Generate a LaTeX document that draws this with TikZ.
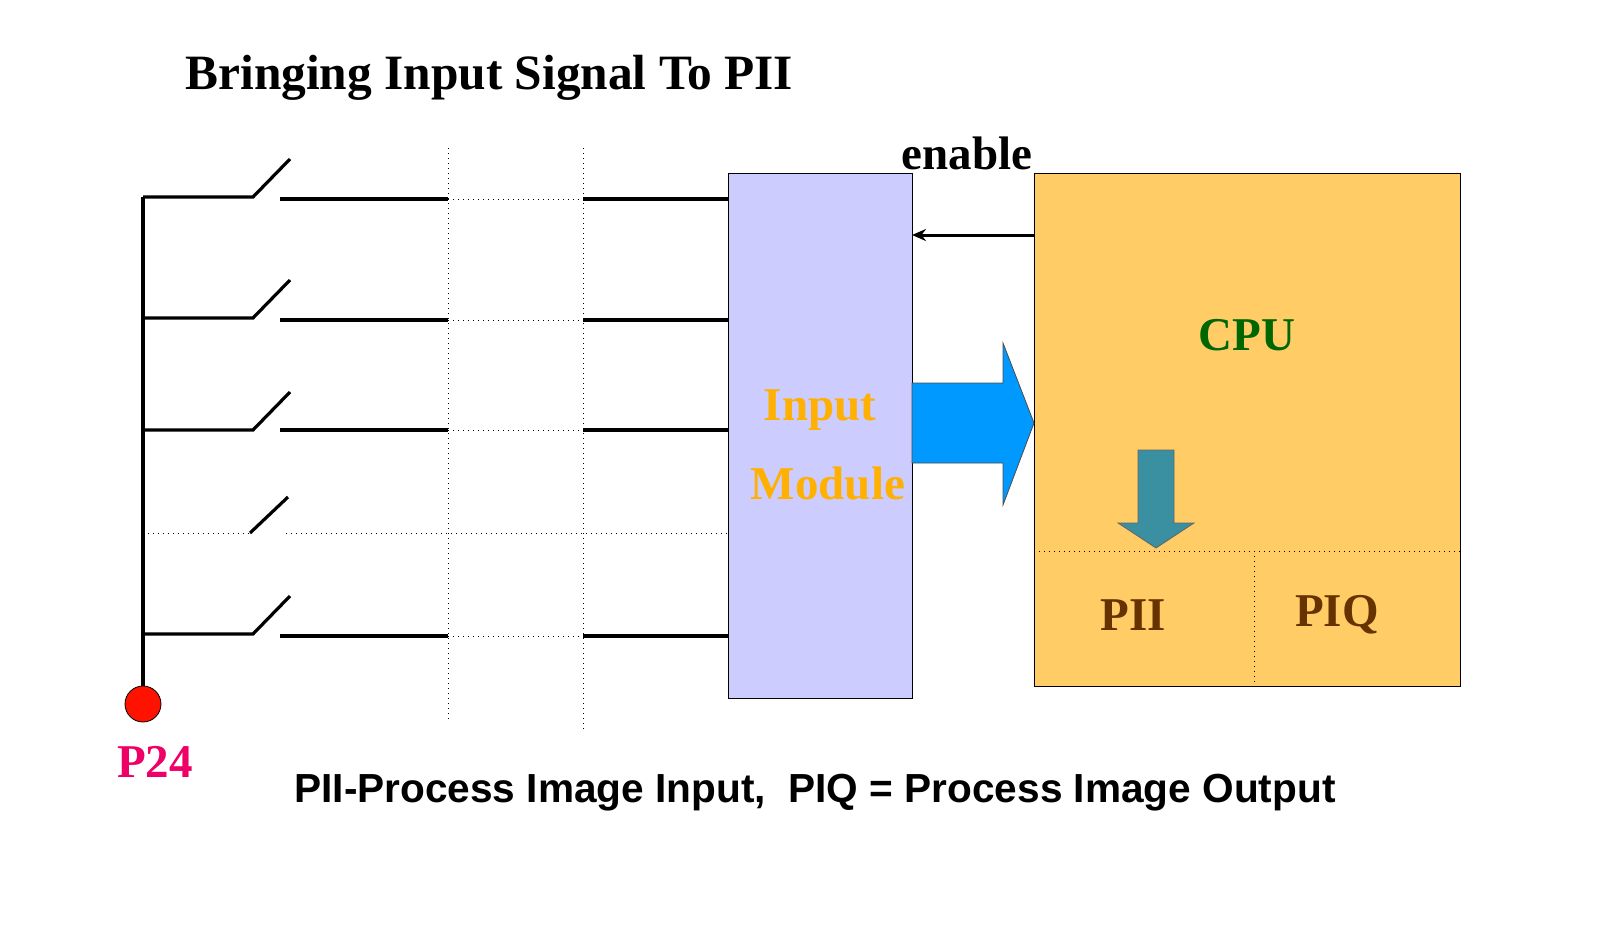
\documentclass[tikz,border=0pt]{standalone}
\usepackage{fontspec}
\setmainfont{Liberation Serif}
\newfontfamily\sansf{Liberation Sans}
\usetikzlibrary{arrows.meta}
\definecolor{modfill}{HTML}{CCCCFF}
\definecolor{cpufill}{HTML}{FFCC66}
\definecolor{modtext}{HTML}{FFB000}
\definecolor{cputext}{HTML}{006600}
\definecolor{piitext}{HTML}{663300}
\definecolor{bluearr}{HTML}{0099FF}
\definecolor{tealarr}{HTML}{3A8FA0}
\definecolor{ptext}{HTML}{EE0066}
\begin{document}
\begin{tikzpicture}[x=0.5pt,y=-0.5pt,
  wire/.style={line width=1.6pt},
  dwire/.style={line width=0.5pt,dotted},
  lbl/.style={font=\bfseries\fontsize{23.5}{26}\selectfont,inner sep=0pt}]
\useasboundingbox (0,0) rectangle (1600,927);
\node[font=\bfseries\fontsize{24.7}{28}\selectfont,inner sep=0pt,anchor=west] (title) at (185,78) {Bringing Input Signal To PII};
% boxes
\node[draw,fill=modfill,minimum width=92pt,minimum height=262.5pt,inner sep=0pt] (mod) at (820,435.5) {};
\node[draw,fill=cpufill,minimum width=213pt,minimum height=256.5pt,inner sep=0pt] (cpu) at (1247,429.5) {};
\node[lbl,text=modtext] (in1) at (820,410) {Input};
\node[lbl,text=modtext] (in2) at (828,483) {Module};
\node[lbl,text=cputext] (cputxt) at (1247,335) {CPU};
\node[lbl,text=piitext] (pii) at (1133,615) {PII};
\node[lbl,text=piitext] (piq) at (1337,615) {PIQ};
\draw[dwire] (1034,551) -- (1460,551) (1254,551) -- (1254,686);
% enable
\node[lbl] (en) at (967,153) {enable};
\coordinate (e1) at (1034,235); \coordinate (e2) at (912,235);
\draw[line width=1.5pt,-{Stealth[length=7pt,width=6pt]}] (e1) -- (e2);
% big arrow
\draw[fill=bluearr,draw=black!70,line width=0.4pt] (912,383) -- (1003,383) -- (1003,343) -- (1034,423) -- (1003,505) -- (1003,463) -- (912,463) -- cycle;
% teal arrow
\draw[fill=tealarr,draw=black!60,line width=0.4pt] (1138,450) -- (1174,450) -- (1174,523) -- (1194,523) -- (1156,548) -- (1118,523) -- (1138,523) -- cycle;
% bus
\coordinate (b0) at (143,197); \coordinate (b1) at (143,686);
\draw[wire] (b0) -- (b1);
\node[circle,draw,fill=red!85!orange,minimum size=18pt,inner sep=0pt] (p24c) at (143,704) {};
\node[lbl,text=ptext] (p24) at (155,762) {P24};
% vertical dotted
\draw[dwire] (448,148) -- (448,720) (583,148) -- (583,732);
% switch rows
\foreach \y/\ry in {197/199,318/320,430/430,634/636}{
  \draw[wire] (143,\y) -- (253,\y) -- ++(37,-38);
  \draw[wire] (280,\ry) -- (448,\ry);
  \draw[dwire] (448,\ry) -- (583,\ry);
  \draw[wire] (583,\ry) -- (728,\ry);
}
\draw[dwire] (143,533) -- (250,533) (286,533) -- (728,533);
\draw[wire] (250,533) -- (288,497);
\node[font=\sansf\bfseries\fontsize{20.3}{23}\selectfont,inner sep=0pt] (foot) at (815,793) {PII-Process Image Input,\ \ PIQ = Process Image Output};
\end{tikzpicture}
\end{document}
